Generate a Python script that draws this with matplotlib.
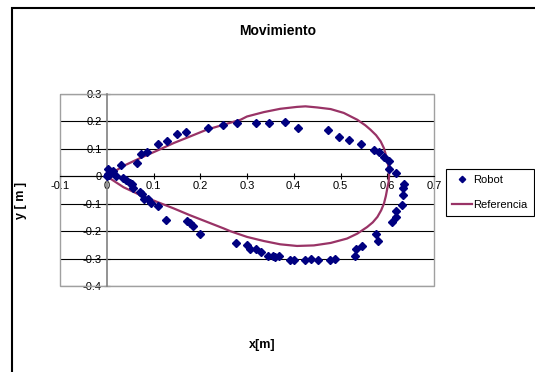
import matplotlib
matplotlib.use('Agg')
import matplotlib.pyplot as plt
from matplotlib.patches import Rectangle

# Datos (x[m], y[m])
robot_x = [0.0, 0.003, 0.007, 0.013, 0.02, 0.03, 0.064, 0.073, 0.086, 0.109,
           0.129, 0.151, 0.169, 0.216, 0.249, 0.279, 0.32, 0.346, 0.382, 0.409,
           0.473, 0.496, 0.519, 0.543, 0.571, 0.583, 0.592, 0.603, 0.603, 0.618,
           0.636, 0.634, 0.633, 0.631, 0.618, 0.618, 0.611, 0.575, 0.581, 0.546,
           0.534, 0.532, 0.488, 0.477, 0.451, 0.436, 0.423, 0.400, 0.391, 0.369,
           0.359, 0.356, 0.344, 0.330, 0.320, 0.307, 0.300, 0.277, 0.199, 0.184,
           0.178, 0.171, 0.127, 0.109, 0.095, 0.089, 0.079, 0.076, 0.071, 0.056,
           0.054, 0.050, 0.041, 0.034, 0.002, 0.005]
robot_y = [0.0, 0.026, 0.017, 0.02, 0.0, 0.041, 0.05, 0.082, 0.09, 0.118,
           0.127, 0.155, 0.163, 0.176, 0.188, 0.194, 0.194, 0.194, 0.198, 0.176,
           0.167, 0.143, 0.133, 0.118, 0.096, 0.087, 0.069, 0.055, 0.028, 0.011,
           -0.028, -0.044, -0.068, -0.103, -0.126, -0.148, -0.166, -0.209, -0.237, -0.255,
           -0.264, -0.291, -0.300, -0.304, -0.307, -0.300, -0.307, -0.304, -0.304, -0.292,
           -0.294, -0.292, -0.291, -0.276, -0.266, -0.264, -0.252, -0.245, -0.211, -0.182,
           -0.172, -0.163, -0.160, -0.109, -0.097, -0.084, -0.081, -0.065, -0.056, -0.044,
           -0.028, -0.023, -0.013, -0.008, 0.008, 0.004]

ref_x = [0.0, 0.036, 0.071, 0.107, 0.143, 0.178, 0.214, 0.25, 0.286, 0.3,
         0.336, 0.371, 0.407, 0.425, 0.45, 0.479, 0.507, 0.536, 0.553, 0.564,
         0.576, 0.586, 0.593, 0.598, 0.602, 0.604, 0.603, 0.6, 0.597, 0.593,
         0.587, 0.579, 0.569, 0.557, 0.536, 0.514, 0.479, 0.443, 0.407, 0.371,
         0.336, 0.3, 0.264, 0.25, 0.214, 0.178, 0.143, 0.107, 0.071, 0.036, 0.0]
ref_y = [0.0, 0.038, 0.066, 0.093, 0.121, 0.145, 0.170, 0.188, 0.206, 0.218,
         0.234, 0.246, 0.253, 0.255, 0.251, 0.245, 0.231, 0.206, 0.186, 0.170,
         0.150, 0.127, 0.102, 0.072, 0.040, 0.005, -0.020, -0.045, -0.072, -0.099,
         -0.124, -0.148, -0.168, -0.185, -0.209, -0.227, -0.243, -0.252, -0.254, -0.248,
         -0.236, -0.221, -0.200, -0.190, -0.166, -0.142, -0.117, -0.093, -0.068, -0.040, 0.0]

plt.rcParams['font.family'] = ['Liberation Sans', 'DejaVu Sans']

fig = plt.figure(figsize=(5.35, 3.72), dpi=100)
ax = fig.add_axes([60 / 535, 1 - 286 / 372, 374 / 535, 192 / 372])

ax.plot(robot_x, robot_y, ls='none', marker='D', ms=3.8, color='#000080',
        label='Robot', zorder=4)
ax.plot(ref_x, ref_y, color='#993366', lw=1.6, label='Referencia', zorder=3)

ax.set_xlim(-0.1, 0.7)
ax.set_ylim(-0.4, 0.3)
ax.set_xticks([-0.1, 0, 0.1, 0.2, 0.3, 0.4, 0.5, 0.6, 0.7])
ax.set_xticklabels(['-0.1', '0', '0.1', '0.2', '0.3', '0.4', '0.5', '0.6', '0.7'])
ax.set_yticks([-0.4, -0.3, -0.2, -0.1, 0, 0.1, 0.2, 0.3])
ax.set_yticklabels(['-0.4', '-0.3', '-0.2', '-0.1', '0', '0.1', '0.2', '0.3'])
ax.grid(True, axis='y', color='black', lw=0.8)
ax.set_axisbelow(True)

ax.spines['left'].set_position(('data', 0))
ax.spines['bottom'].set_position(('data', 0))
ax.spines['left'].set_color('#808080')
ax.spines['bottom'].set_color('black')
ax.spines['left'].set_linewidth(1.2)
for s in ['top', 'right']:
    ax.spines[s].set_visible(False)
ax.add_patch(Rectangle((0, 0), 1, 1, transform=ax.transAxes, fill=False,
                       ec='#a0a0a0', lw=1.0, clip_on=False, zorder=1))
ax.tick_params(direction='inout', length=5, width=0.8, labelsize=8, pad=1)

fig.text(278 / 535, 1 - 31 / 372, 'Movimiento', fontsize=10, fontweight='bold',
         ha='center', va='center')
fig.text(262 / 535, 1 - 345 / 372, 'x[m]', fontsize=9, fontweight='bold',
         ha='center', va='center')
fig.text(21 / 535, 1 - 200 / 372, 'y [ m ]', fontsize=9, fontweight='bold',
         ha='center', va='center', rotation=90)

leg = ax.legend(loc='upper left', bbox_to_anchor=(446 / 535, 1 - 169 / 372),
                bbox_transform=fig.transFigure, fontsize=8, frameon=True,
                fancybox=False, edgecolor='black', framealpha=1,
                handlelength=1.8, handletextpad=0.1, borderpad=0.55,
                labelspacing=1.35, borderaxespad=0, markerscale=0.85)
leg.get_frame().set_linewidth(0.8)

fig.patches.append(Rectangle((11.5 / 535, -0.05), 1.0, 1.05 - 7.5 / 372,
                             transform=fig.transFigure, fill=False,
                             ec='black', lw=1.5))

plt.savefig('out.png', dpi=100)
